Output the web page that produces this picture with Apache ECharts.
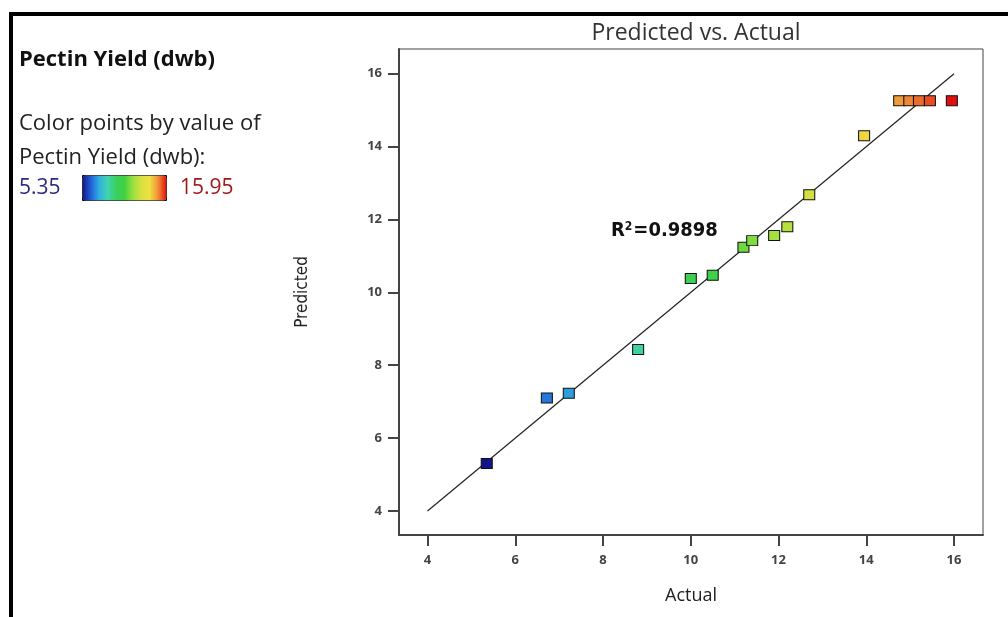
<!DOCTYPE html>
<html lang="en">
<head>
  <meta charset="UTF-8">
  <title>Predicted vs. Actual</title>
  <style>
    html, body { margin: 0; padding: 0; background: #fff; }
    #main { width: 1008px; height: 617px; }
  </style>
</head>
<body>
  <div id="main"></div>
  <script src="https://cdn.jsdelivr.net/npm/echarts@6/dist/echarts.min.js"></script>
  <script>
    // actual vs predicted pectin yield (dwb)
    const actual    = [5.35, 6.72, 7.22, 8.80, 10.00, 10.50, 11.20, 11.40, 11.90, 12.20, 12.70, 13.95, 14.75, 14.98, 15.20, 15.45, 15.95]
    const predicted = [5.30, 7.10, 7.23, 8.43, 10.38, 10.47, 11.24, 11.42, 11.56, 11.80, 12.68, 14.30, 15.26, 15.26, 15.26, 15.26, 15.26]
    const diagonal  = [[4, 4], [16, 16]]
    const ticks     = [4, 6, 8, 10, 12, 14, 16]
    const colorRange = [5.35, 15.95]

    const font = '"Open Sans", "Noto Sans", sans-serif'
    const narrow = '"DejaVu Sans Condensed", "Liberation Sans Narrow", sans-serif'
    const myChart = echarts.init(document.getElementById('main'))

    const points = actual.map((a, i) => [a, predicted[i]])

    function label(x, y, text, css, fill) {
      return { type: 'text', style: { x: x, y: y, text: text, font: css, fill: fill, verticalAlign: 'middle' } }
    }

    const option = {
      backgroundColor: '#fff',
      animation: false,
      title: {
        text: 'Predicted vs. Actual',
        left: 691,
        textAlign: 'center',
        top: 17,
        textStyle: { fontFamily: font, fontSize: 23, fontWeight: 'normal', color: '#333' }
      },
      grid: {
        left: 399, right: 25, top: 49, bottom: 82,
        show: true, borderColor: '#444', borderWidth: 1
      },
      xAxis: {
        type: 'value', min: 3.35, max: 16.66,
        name: 'Actual', nameLocation: 'middle', nameGap: 52,
        nameTextStyle: { fontFamily: font, fontSize: 18, color: '#222' },
        splitLine: { show: false },
        axisLine: { show: true, lineStyle: { color: '#444', width: 2 } },
        axisTick: { show: true, length: 11, customValues: ticks, lineStyle: { color: '#444', width: 2 } },
        axisLabel: { customValues: ticks, margin: 19, fontFamily: font, fontSize: 13, fontWeight: 'bold', color: '#444' }
      },
      yAxis: {
        type: 'value', min: 3.34, max: 16.68,
        name: 'Predicted', nameLocation: 'middle', nameGap: 88,
        nameTextStyle: { fontFamily: narrow, fontSize: 17, color: '#222' },
        splitLine: { show: false },
        axisLine: { show: true, lineStyle: { color: '#444', width: 2 } },
        axisTick: { show: true, length: 11, customValues: ticks, lineStyle: { color: '#444', width: 2 } },
        axisLabel: { customValues: ticks, margin: 17, fontFamily: font, fontSize: 13, fontWeight: 'bold', color: '#444' }
      },
      visualMap: {
        type: 'continuous',
        seriesIndex: 1,
        dimension: 0,
        min: colorRange[0], max: colorRange[1],
        orient: 'horizontal',
        left: 82, top: 175,
        itemWidth: 25, itemHeight: 84,
        padding: 0,
        calculable: false,
        showLabel: false,
        text: null,
        borderColor: '#000', borderWidth: 1,
        inRange: {
          color: ['#14148a', '#2060d8', '#30b0e0', '#40d4b0', '#38d060', '#40d040',
                  '#98e040', '#d8e040', '#f0e040', '#f09038', '#e01010']
        }
      },
      graphic: [
        { type: 'rect', shape: { x: 9, y: 12, width: 999, height: 4 }, style: { fill: '#000' } },
        { type: 'rect', shape: { x: 9, y: 12, width: 4, height: 605 }, style: { fill: '#000' } },
        label(19, 60, 'Pectin Yield (dwb)', 'bold 22px ' + font, '#111'),
        label(19, 124, 'Color points by value of', '22px ' + font, '#222'),
        label(19, 158, 'Pectin Yield (dwb):', '22px ' + font, '#222'),
        label(19, 188, String(colorRange[0]), '21px ' + font, '#2a2a80'),
        label(180, 188, String(colorRange[1]), '21px ' + font, '#a01818'),
        {
          type: 'text',
          style: {
            x: 611, y: 231, verticalAlign: 'middle',
            text: '{a|R}{b|2}{a|=0.9898}',
            rich: {
              a: { font: 'bold 20px ' + narrow, fill: '#111' },
              b: { font: 'bold 12px ' + narrow, fill: '#111', verticalAlign: 'top', padding: [0, 1, 9, 0] }
            }
          }
        }
      ],
      series: [
        {
          type: 'line',
          data: diagonal,
          symbol: 'none',
          silent: true,
          lineStyle: { color: '#222', width: 1.2 },
          z: 2
        },
        {
          type: 'scatter',
          data: points,
          symbol: 'rect',
          symbolSize: [11, 10],
          itemStyle: { borderColor: '#111', borderWidth: 1, opacity: 1 },
          z: 3
        }
      ]
    }
    myChart.setOption(option)
  </script>
</body>
</html>
